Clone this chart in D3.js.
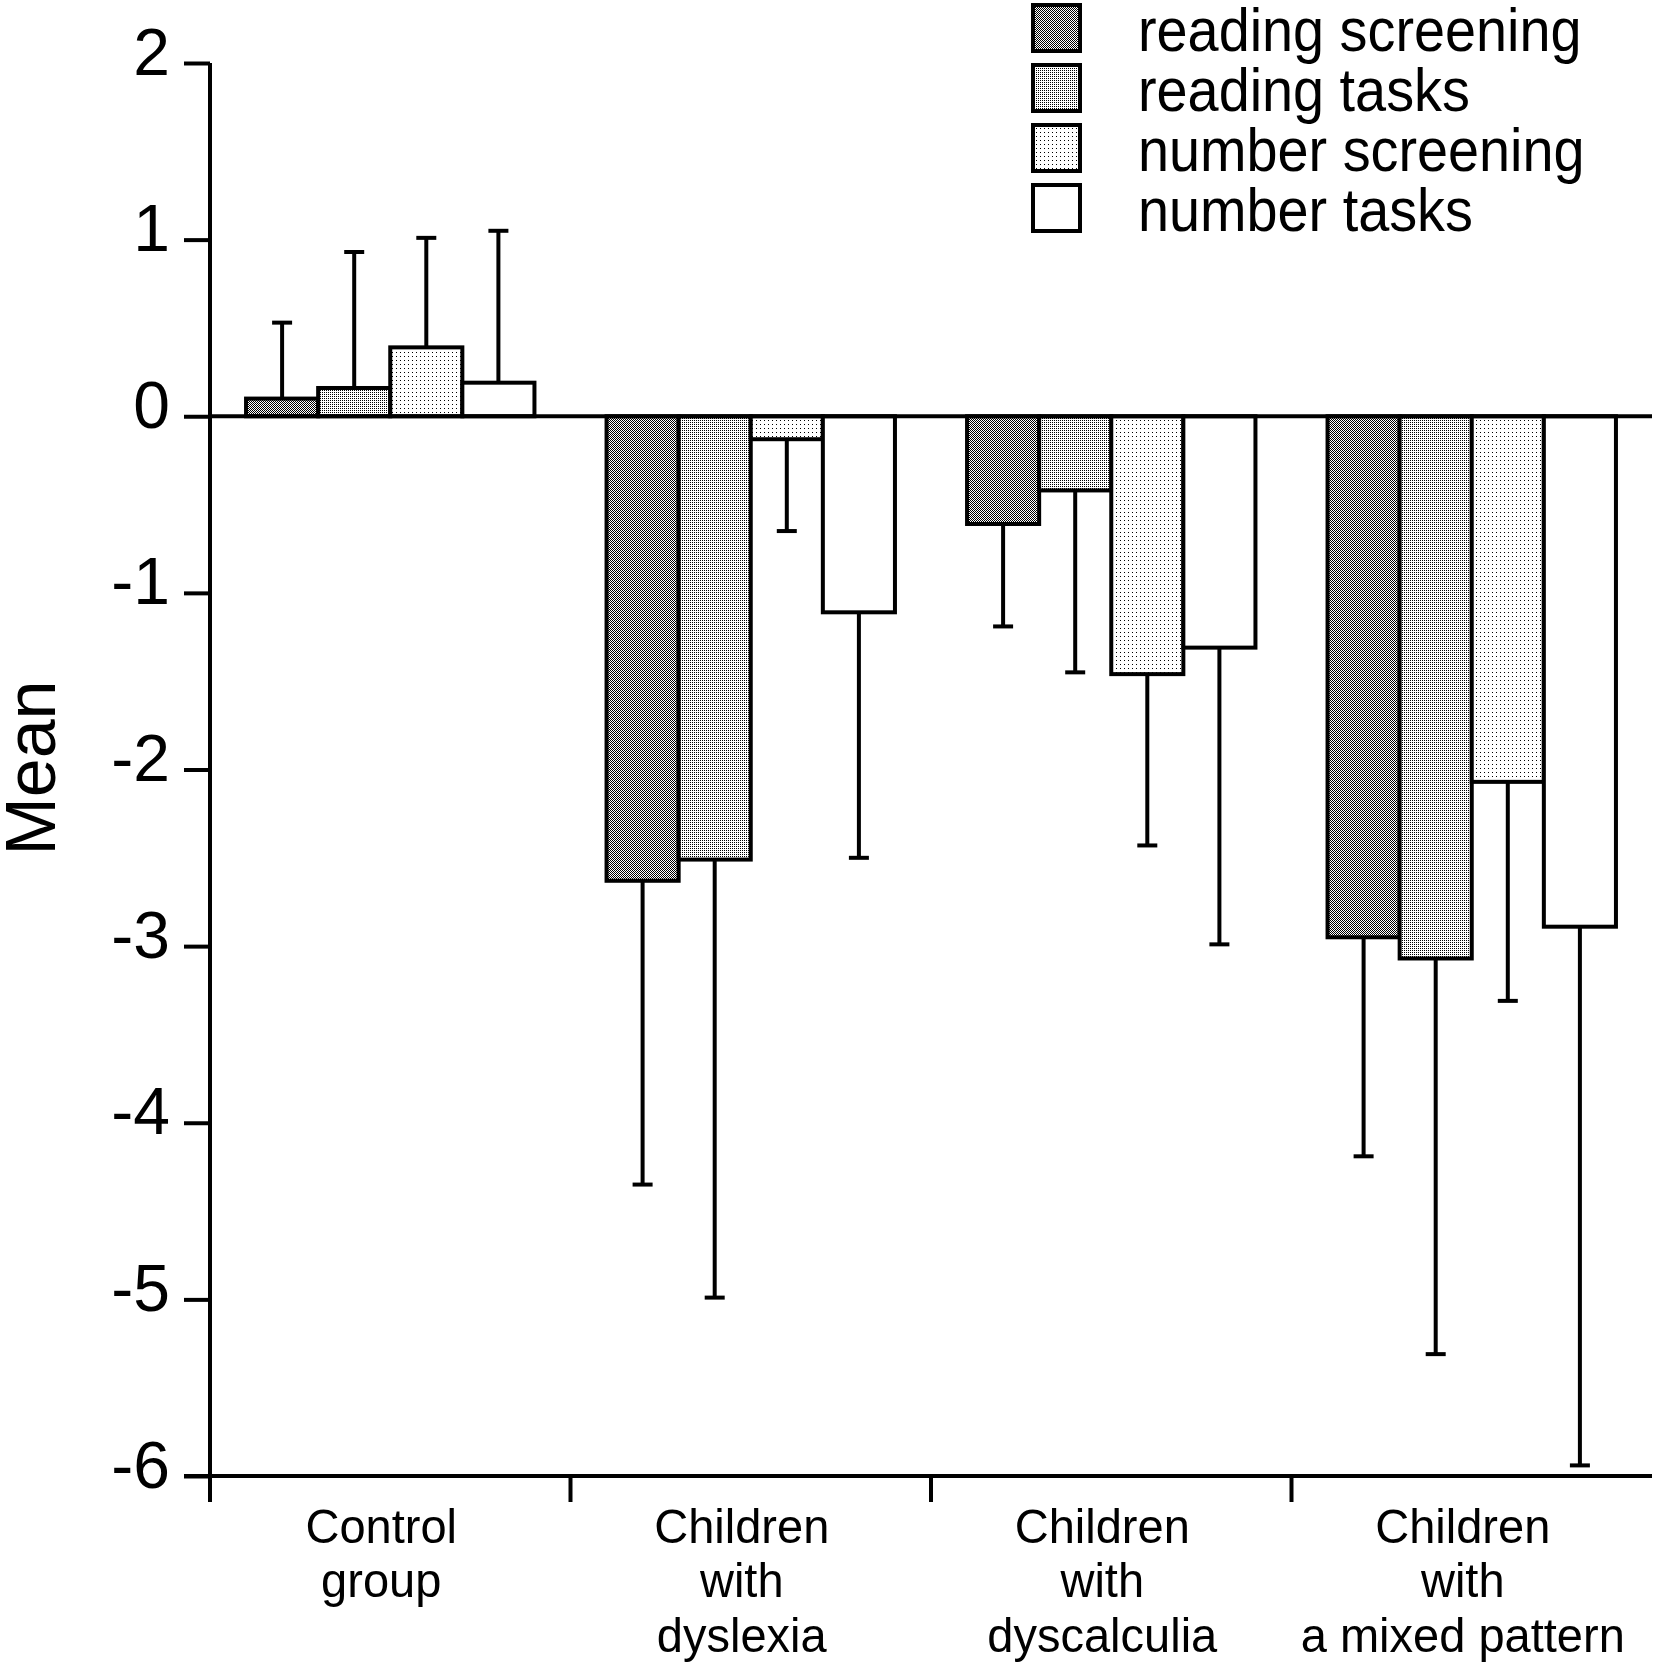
<!DOCTYPE html>
<html>
<head>
<meta charset="utf-8">
<script src="https://cdn.jsdelivr.net/npm/d3@7.9.0/dist/d3.min.js"></script>
<style>
  html, body { margin: 0; padding: 0; background: #fff; }
  svg { display: block; }
</style>
</head>
<body>
<div id="chart"></div>
<script>
// ── Data ───────────────────────────────────────────────────────────────────
var groups = ["Control group", "Children with dyslexia", "Children with dyscalculia", "Children with a mixed pattern"];
var groupLines = [
  ["Control", "group"],
  ["Children", "with", "dyslexia"],
  ["Children", "with", "dyscalculia"],
  ["Children", "with", "a mixed pattern"]
];
var seriesNames = ["reading screening", "reading tasks", "number screening", "number tasks"];

var readingScreeningMean = [0.10, -2.63, -0.61, -2.95];
var readingScreeningSD   = [0.43,  1.72,  0.58,  1.24];
var readingTasksMean     = [0.16, -2.51, -0.42, -3.07];
var readingTasksSD       = [0.77,  2.48,  1.03,  2.24];
var numberScreeningMean  = [0.39, -0.13, -1.46, -2.07];
var numberScreeningSD    = [0.62,  0.52,  0.97,  1.24];
var numberTasksMean      = [0.19, -1.11, -1.31, -2.89];
var numberTasksSD        = [0.86,  1.39,  1.68,  3.05];

var yTicks = [2, 1, 0, -1, -2, -3, -4, -5, -6];

var means = [readingScreeningMean, readingTasksMean, numberScreeningMean, numberTasksMean];
var sds   = [readingScreeningSD, readingTasksSD, numberScreeningSD, numberTasksSD];

// ── Layout ─────────────────────────────────────────────────────────────────
var W = 1656, H = 1667;
var X0 = 210, X1 = 1652;     // plot left / right
var YTOP = 63, YBOT = 1476;  // y = 2 / y = -6
var TICK = 26;
var LW = 4;
var FONT = "Liberation Sans, Arial, Helvetica, sans-serif";

var svg = d3.select("#chart").append("svg")
  .attr("width", W).attr("height", H)
  .attr("viewBox", "0 0 " + W + " " + H);

svg.append("rect").attr("width", W).attr("height", H).attr("fill", "#fff");

// ── Fill patterns ──────────────────────────────────────────────────────────
var defs = svg.append("defs");

function pattern(id, w, h, dots) {
  var p = defs.append("pattern")
    .attr("id", id)
    .attr("patternUnits", "userSpaceOnUse")
    .attr("width", w).attr("height", h);
  p.append("rect").attr("width", w).attr("height", h).attr("fill", "#fff");
  dots.forEach(function (d) {
    p.append("rect")
      .attr("x", d[0]).attr("y", d[1])
      .attr("width", 1).attr("height", 1)
      .attr("fill", "#000")
      .attr("shape-rendering", "crispEdges");
  });
}
pattern("pat-rs", 2, 2, [[0, 0], [1, 1]]);          // checkerboard
pattern("pat-rt", 2, 2, [[0, 0]]);                  // dense dots
pattern("pat-ns", 4, 4, [[0, 0]]);                  // sparse dots
var fills = ["url(#pat-rs)", "url(#pat-rt)", "url(#pat-ns)", "#fff"];

// ── Scales ─────────────────────────────────────────────────────────────────
var y = d3.scaleLinear().domain([-6, 2]).range([YBOT, YTOP]);
var x0 = d3.scaleBand().domain(groups).range([X0, X1]).padding(0);
var x1 = d3.scaleBand().domain(seriesNames)
  .range([x0.bandwidth() * 0.1, x0.bandwidth() * 0.9]).padding(0);

// ── Bars ───────────────────────────────────────────────────────────────────
var barsG = svg.append("g");
seriesNames.forEach(function (s, si) {
  groups.forEach(function (g, gi) {
    var v = means[si][gi];
    var bx = x0(g) + x1(s);
    barsG.append("rect")
      .attr("x", bx)
      .attr("y", y(Math.max(0, v)))
      .attr("width", x1.bandwidth())
      .attr("height", Math.abs(y(v) - y(0)))
      .attr("fill", fills[si])
      .attr("stroke", "#000")
      .attr("stroke-width", LW);
  });
});

// ── Error bars (outer side only) ───────────────────────────────────────────
var errG = svg.append("g").attr("stroke", "#000").attr("stroke-width", LW);
seriesNames.forEach(function (s, si) {
  groups.forEach(function (g, gi) {
    var v = means[si][gi];
    var e = v >= 0 ? v + sds[si][gi] : v - sds[si][gi];
    var cx = x0(g) + x1(s) + x1.bandwidth() / 2;
    errG.append("line")
      .attr("x1", cx).attr("x2", cx)
      .attr("y1", y(v)).attr("y2", y(e));
    errG.append("line")
      .attr("x1", cx - 10).attr("x2", cx + 10)
      .attr("y1", y(e)).attr("y2", y(e));
  });
});

// ── Axes ───────────────────────────────────────────────────────────────────
var axG = svg.append("g").attr("stroke", "#000").attr("stroke-width", LW);

// zero line
axG.append("line").attr("x1", X0).attr("x2", X1).attr("y1", y(0)).attr("y2", y(0));

// y axis
var yAxis = d3.axisLeft(y).tickValues(yTicks).tickSize(TICK).tickPadding(14)
  .tickFormat(function (d) { return String(d); });
var yg = svg.append("g").attr("transform", "translate(" + X0 + ",0)").call(yAxis);
yg.select(".domain").remove();
yg.selectAll(".tick line").attr("stroke", "#000").attr("stroke-width", LW);
yg.selectAll(".tick text")
  .attr("fill", "#000")
  .attr("font-family", FONT)
  .attr("font-size", 66)
  .attr("dy", null)
  .attr("y", 11)
  .attr("dominant-baseline", "alphabetic");
axG.append("line").attr("x1", X0).attr("x2", X0).attr("y1", YTOP).attr("y2", YBOT + TICK);

// x axis at bottom
axG.append("line").attr("x1", X0 - TICK).attr("x2", X1).attr("y1", YBOT).attr("y2", YBOT);
groups.forEach(function (g) {
  axG.append("line")
    .attr("x1", x0(g)).attr("x2", x0(g))
    .attr("y1", YBOT).attr("y2", YBOT + TICK);
});

// category labels
groups.forEach(function (g, gi) {
  var cx = x0(g) + x0.bandwidth() / 2 - 9;
  var t = svg.append("g")
    .attr("transform", "translate(" + cx + ",1543) scale(0.96,1)");
  groupLines[gi].forEach(function (line, li) {
    t.append("text")
      .attr("x", 0).attr("y", li * 54.5)
      .attr("text-anchor", "middle")
      .attr("font-family", FONT)
      .attr("font-size", 49)
      .attr("fill", "#000")
      .text(line);
  });
});

// y title
svg.append("text")
  .attr("transform", "translate(55,768) rotate(-90)")
  .attr("text-anchor", "middle")
  .attr("font-family", FONT)
  .attr("font-size", 70)
  .attr("fill", "#000")
  .text("Mean");

// ── Legend ─────────────────────────────────────────────────────────────────
var leg = svg.append("g");
seriesNames.forEach(function (s, si) {
  var top = 5 + si * 60;
  leg.append("rect")
    .attr("x", 1033).attr("y", top)
    .attr("width", 47).attr("height", 46)
    .attr("fill", fills[si])
    .attr("stroke", "#000")
    .attr("stroke-width", LW);
  leg.append("text")
    .attr("transform", "translate(1138," + (top + 46) + ") scale(0.9,1)")
    .attr("font-family", FONT)
    .attr("font-size", 62)
    .attr("fill", "#000")
    .text(s);
});
</script>
</body>
</html>
